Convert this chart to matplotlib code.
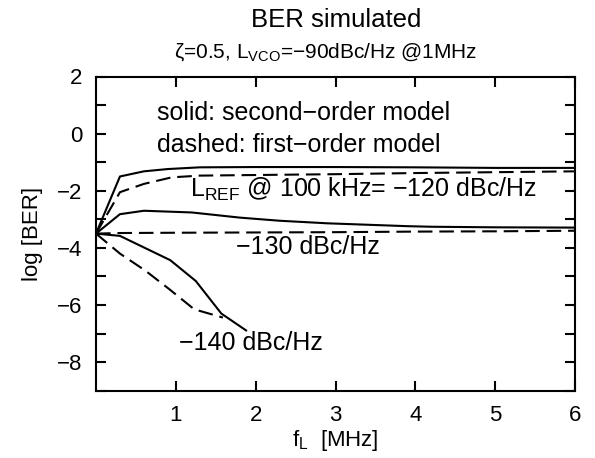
import matplotlib
matplotlib.use('Agg')
import matplotlib.pyplot as plt
from matplotlib.ticker import MultipleLocator

plt.rcParams['font.family'] = ['Liberation Sans', 'DejaVu Sans']
plt.rcParams['mathtext.fontset'] = 'custom'
plt.rcParams['mathtext.rm'] = 'Liberation Sans'
plt.rcParams['mathtext.it'] = 'Liberation Sans'

# L_REF = -120 dBc/Hz
f_120s = [0, 0.3, 0.6, 0.9, 1.3, 2.0, 3.0, 4.0, 5.0, 6.0]
ber_120s = [-3.5, -1.5, -1.32, -1.24, -1.18, -1.17, -1.17, -1.18, -1.2, -1.2]
f_120d = [0, 0.3, 0.6, 0.95, 1.3, 2.3, 3.0, 4.0, 5.0, 6.0]
ber_120d = [-3.5, -2.05, -1.76, -1.53, -1.47, -1.44, -1.42, -1.38, -1.35, -1.32]

# L_REF = -130 dBc/Hz
f_130s = [0, 0.3, 0.6, 1.2, 1.8, 2.3, 2.9, 3.5, 3.9, 4.2, 5.0, 6.0]
ber_130s = [-3.5, -2.82, -2.7, -2.76, -2.94, -3.05, -3.14, -3.2, -3.24, -3.26, -3.28, -3.29]
f_130d = [0, 0.3, 1.0, 2.0, 3.0, 4.0, 5.0, 6.0]
ber_130d = [-3.5, -3.48, -3.47, -3.46, -3.45, -3.43, -3.42, -3.4]

# L_REF = -140 dBc/Hz
f_140s = [0, 0.3, 0.93, 1.25, 1.57, 1.88]
ber_140s = [-3.5, -3.58, -4.43, -5.16, -6.3, -6.89]
f_140d = [0, 0.3, 0.62, 0.92, 1.23, 1.59]
ber_140d = [-3.5, -4.2, -4.8, -5.45, -6.15, -6.44]

fig = plt.figure(figsize=(5.95, 4.58), dpi=100)
ax = fig.add_axes([96/595, 1 - 390.7/458, (575-96)/595, (390.7-76.5)/458])

lw = 1.5
dash = (7, 3.3)
for f, b in [(f_120s, ber_120s), (f_130s, ber_130s), (f_140s, ber_140s)]:
    ax.plot(f, b, color='black', lw=lw)
for f, b in [(f_120d, ber_120d), (f_130d, ber_130d), (f_140d, ber_140d)]:
    ax.plot(f, b, color='black', lw=lw, dashes=dash)

ax.set_xlim(0, 6)
ax.set_ylim(-9, 2)
ax.set_xticks([1, 2, 3, 4, 5, 6])
ax.set_yticks([-8, -6, -4, -2, 0, 2])
ax.yaxis.set_minor_locator(MultipleLocator(1))
ax.tick_params(which='both', direction='in', top=True, right=True,
               length=7, width=1.5, labelsize=16, pad=10)
for s in ax.spines.values():
    s.set_linewidth(1.5)

ax.set_xlabel(r'f$_\mathrm{L}$  [MHz]', fontsize=16, labelpad=2)
ax.set_ylabel('log [BER]', fontsize=16, labelpad=10)

ax.text(0.76, 0.49, 'solid: second\u2212order model', fontsize=18, va='baseline')
ax.text(0.76, -0.63, 'dashed: first\u2212order model', fontsize=18, va='baseline')
ax.text(1.18, -2.2, r'L$_\mathrm{REF}$ @ 100 kHz= $-$120 dBc/Hz', fontsize=18, va='baseline')
ax.text(1.75, -4.23, '\u2212130 dBc/Hz', fontsize=18, va='baseline')
ax.text(1.04, -7.56, '\u2212140 dBc/Hz', fontsize=18, va='baseline')

fig.text(336/595, 1 - 27.3/458, 'BER simulated', fontsize=18.5, ha='center', va='baseline')
fig.text(326/595, 1 - 57.7/458, r'ζ=0.5, L$_\mathrm{VCO}$=$-$90dBc/Hz @1MHz', fontsize=15,
         ha='center', va='baseline')

fig.savefig('out.png', dpi=100, facecolor='white')
